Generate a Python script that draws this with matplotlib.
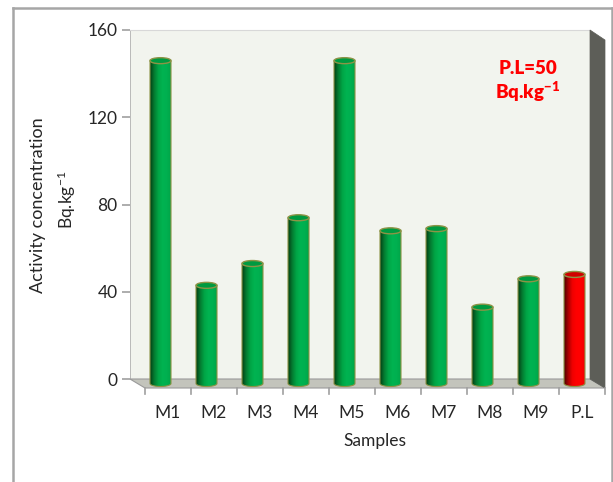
import numpy as np
import matplotlib
matplotlib.use("Agg")
import matplotlib.pyplot as plt
from matplotlib.patches import Ellipse, PathPatch, Polygon, Rectangle
from matplotlib.path import Path
from matplotlib.colors import LinearSegmentedColormap
from matplotlib.lines import Line2D

plt.rcParams['font.family'] = ['Lato', 'DejaVu Sans']
plt.rcParams['mathtext.default'] = 'regular'

samples = ["M1", "M2", "M3", "M4", "M5", "M6", "M7", "M8", "M9", "P.L"]
activity = [148, 45, 55, 76, 148, 70, 71, 35, 48, 50]
limit_name = "P.L"

W, H = 613, 482
fig = plt.figure(figsize=(W / 100, H / 100), dpi=100)
fig.patch.set_facecolor("white")

# axes cover the back wall plus the floor strip below it
wall_l, wall_r, wall_t, wall_b = 130, 590, 30, 379
floor_px = 14
px_x = 10 / (wall_r - wall_l)     # data units per pixel
px_y = 160 / (wall_b - wall_t)
ax = fig.add_axes([wall_l / W, 1 - (wall_b + floor_px) / H, (wall_r - wall_l) / W,
                   (wall_b + floor_px - wall_t) / H])
ax.set_facecolor("none")
ymin = -floor_px * px_y

# depth offsets (front of floor, middle for bars)
front_dx, front_dy = 15 * px_x, -9 * px_y
mid_dx, mid_dy = front_dx / 2, front_dy / 2

for s in ax.spines.values():
    s.set_visible(False)

ax.add_patch(Rectangle((-0.5, 0), 10, 160, facecolor="#f2f4ee", edgecolor="none", zorder=0))
ax.plot([-0.5, -0.5], [0, 160], color="#b0b0b0", lw=1.2, zorder=1)
ax.plot([-0.5, 9.5], [160, 160], color="#d8d8d8", lw=0.8, zorder=1, clip_on=False)

ax.set_yticks([0, 40, 80, 120, 160])
ax.tick_params(axis="y", length=6, width=1.2, color="#a0a0a0", labelsize=12.5,
               labelcolor="#262626", pad=3)

# floor and right side wall
floor = Polygon([(-0.5, 0), (9.5, 0), (9.5 + front_dx, front_dy), (-0.5 + front_dx, front_dy)],
                closed=True, facecolor="#c3c4bc", edgecolor="#9a9a9a", lw=0.8,
                clip_on=False, zorder=1)
ax.add_patch(floor)
side = Polygon([(9.5, 0), (9.5, 160), (9.5 + front_dx, 160 - 10 * px_y),
                (9.5 + front_dx, front_dy)],
               closed=True, facecolor="#5d5e58", edgecolor="#5d5e58", lw=0.5,
               clip_on=False, zorder=1)
ax.add_patch(side)

# category ticks on the front edge of the floor
for k in range(11):
    xk = -0.5 + k + front_dx
    ax.add_line(Line2D([xk, xk], [front_dy, front_dy - 6 * px_y], color="#a0a0a0",
                       lw=1.2, clip_on=False))
ax.set_xticks([i + front_dx for i in range(len(samples))])
ax.set_xticklabels(samples)
ax.tick_params(axis="x", length=0, labelsize=12.5, labelcolor="#262626", pad=9)

green = LinearSegmentedColormap.from_list(
    "cyl_g", ["#023d14", "#047a30", "#00a545", "#00b351", "#00b050", "#00a448"])
red = LinearSegmentedColormap.from_list(
    "cyl_r", ["#4a0000", "#a80000", "#f00000", "#ff0000", "#ff0000", "#f20000"])
grad = np.linspace(0, 1, 256).reshape(1, -1)

bw = 21 * px_x
eh = 6 * px_y
for i, (name, v) in enumerate(zip(samples, activity)):
    cmap = red if name == limit_name else green
    top_col = "#d00000" if name == limit_name else "#009a40"
    xc = i + mid_dx
    x0, x1 = xc - bw / 2, xc + bw / 2
    y0, y1 = mid_dy, v + mid_dy
    # body outline: rectangle closed by the lower half of the base ellipse
    t = np.linspace(np.pi, 2 * np.pi, 40)
    arc = np.column_stack([xc + bw / 2 * np.cos(t), y0 + eh / 2 * np.sin(t)])
    verts = np.vstack([[x0, y1], arc, [x1, y1], [x0, y1]])
    body = PathPatch(Path(verts, closed=True), facecolor="none", edgecolor="#8d9346",
                     lw=0.8, zorder=4)
    ax.add_patch(body)
    im = ax.imshow(grad, extent=[x0, x1, y0 - eh, y1], aspect="auto", cmap=cmap,
                   zorder=3, interpolation="bilinear")
    im.set_clip_path(body)
    ax.add_patch(Ellipse((xc, y1), bw, eh, facecolor=top_col, edgecolor="#8d9346",
                         lw=1.0, zorder=5))

ax.set_xlim(-0.5, 9.5)
ax.set_ylim(ymin, 160)

# axis titles
fig.text(375 / W, 1 - 441 / H, "Samples", ha="center", va="center", fontsize=12.5,
         color="#262626")
fig.text(38 / W, 1 - 205 / H, "Activity concentration", ha="center", va="center",
         rotation=90, fontsize=13, color="#262626")
fig.text(67 / W, 1 - 200 / H, "Bq.kg$^{-1}$", ha="center", va="center",
         rotation=90, fontsize=12.5, color="#262626")

# permissible limit note
fig.text(528 / W, 1 - 68 / H, "P.L=50", ha="center", va="center", fontsize=13.5,
         fontweight="heavy", color="#ff0000")
fig.text(528 / W, 1 - 92 / H, "Bq.kg$^{-1}$", ha="center", va="center", fontsize=13.5,
         fontweight="heavy", color="#ff0000")

# outer chart frame
frame = dict(transform=fig.transFigure, color="#a6a6a6", lw=1.8)
fig.add_artist(Line2D([13 / W, 13 / W], [0, 1 - 8 / H], **frame))
fig.add_artist(Line2D([13 / W, 1], [1 - 8 / H, 1 - 8 / H], **frame))
fig.add_artist(Line2D([611.5 / W, 611.5 / W], [0, 1 - 8 / H], **frame))

fig.savefig("out.png", dpi=100)
